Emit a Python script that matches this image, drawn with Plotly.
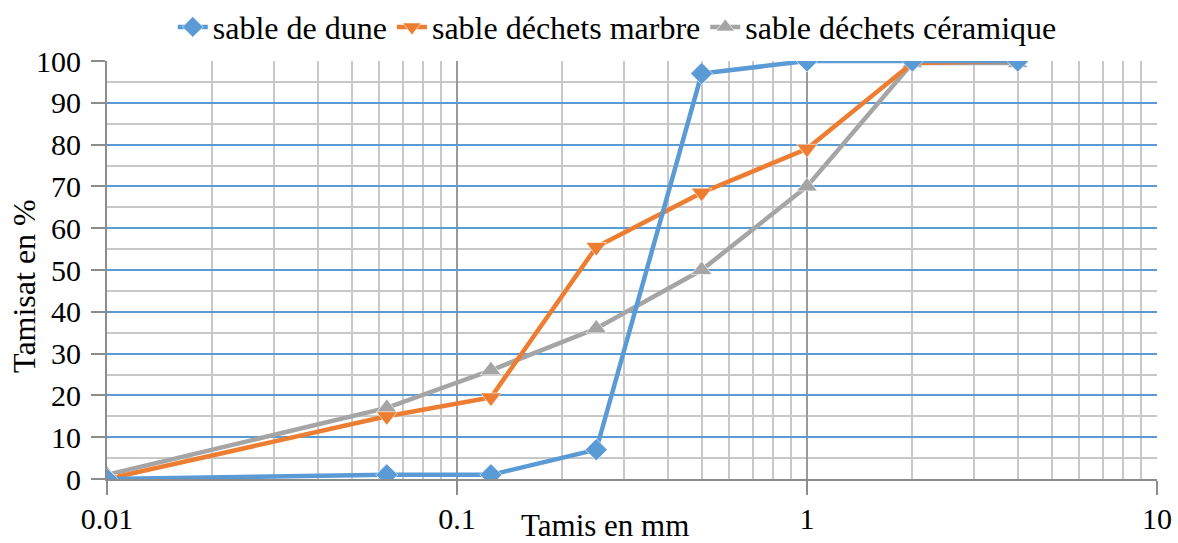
import plotly.graph_objects as go

# Sieve openings (mm) and cumulative passing (%)
tamis = [0.01, 0.063, 0.125, 0.25, 0.5, 1, 2, 4]
sable_dune = [0, 1, 1, 7, 97, 100, 100, 100]
sable_marbre = [0, 15, 19.5, 55.5, 68.5, 79, 99.5, 100]
sable_ceramique = [1, 17, 26, 36, 50, 70, 99.5, 99.5]

x_ticks = [0.01, 0.1, 1, 10]
x_tick_labels = ["0.01", "0.1", "1", "10"]
y_ticks = list(range(0, 101, 10))

FONT = "Times New Roman, Liberation Serif, DejaVu Serif, serif"

# (name, values, colour, marker, size, legend rank) - dune drawn last so it sits on top
series = [
    ("sable déchets céramique", sable_ceramique, "#A5A5A5", "triangle-up", 18, 3),
    ("sable déchets marbre", sable_marbre, "#ED7D31", "triangle-down", 18, 2),
    ("sable de dune", sable_dune, "#5B9BD5", "diamond", 17, 1),
]

fig = go.Figure()
for name, vals, color, sym, size, rank in series:
    fig.add_trace(go.Scatter(
        x=tamis, y=vals, name=name, mode="lines+markers", legendrank=rank,
        line=dict(color=color, width=4.5),
        marker=dict(symbol=sym, size=size, color=color,
                    line=dict(color="rgba(255,255,255,0.6)", width=1)),
    ))

fig.update_layout(
    width=1178, height=543,
    margin=dict(l=107, r=21, t=61, b=64, autoexpand=False),
    paper_bgcolor="white", plot_bgcolor="white",
    font=dict(family=FONT, size=30, color="black"),
    showlegend=True,
    legend=dict(orientation="h", x=0.486, xanchor="center", y=1.081, yanchor="middle",
                font=dict(family=FONT, size=32), tracegroupgap=0,
                bgcolor="rgba(0,0,0,0)"),
    xaxis=dict(
        type="log", range=[-2, 1],
        tickvals=x_ticks, ticktext=x_tick_labels,
        ticks="outside", ticklen=14, tickcolor="#8C8C8C", tickwidth=1.5,
        ticklabelstandoff=-2,
        showgrid=True, gridcolor="#9A9A9A", gridwidth=1.5,
        showline=True, linecolor="#8C8C8C", linewidth=2,
        minor=dict(dtick="D1", showgrid=True, gridcolor="#C8C8C8", gridwidth=1.5, ticks=""),
        zeroline=False, tickfont=dict(family=FONT, size=30),
    ),
    yaxis=dict(
        range=[0, 100], tickvals=y_ticks,
        ticks="outside", ticklen=14, tickcolor="#8C8C8C", tickwidth=1.5,
        ticklabelstandoff=4,
        showgrid=True, gridcolor="#5B9BD5", gridwidth=1.5,
        showline=True, linecolor="#8C8C8C", linewidth=2,
        minor=dict(dtick=5, showgrid=True, gridcolor="#C8C8C8", gridwidth=1.5, ticks=""),
        zeroline=False, tickfont=dict(family=FONT, size=30),
    ),
    annotations=[
        dict(text="Tamis en mm", xref="paper", yref="paper", x=0.474, y=-0.111,
             xanchor="center", yanchor="middle", showarrow=False,
             font=dict(family=FONT, size=31)),
        dict(text="Tamisat en %", xref="paper", yref="paper", x=-0.079, y=0.462,
             xanchor="center", yanchor="middle", textangle=-90, showarrow=False,
             font=dict(family=FONT, size=32)),
    ],
)

fig.write_html("out.html")
